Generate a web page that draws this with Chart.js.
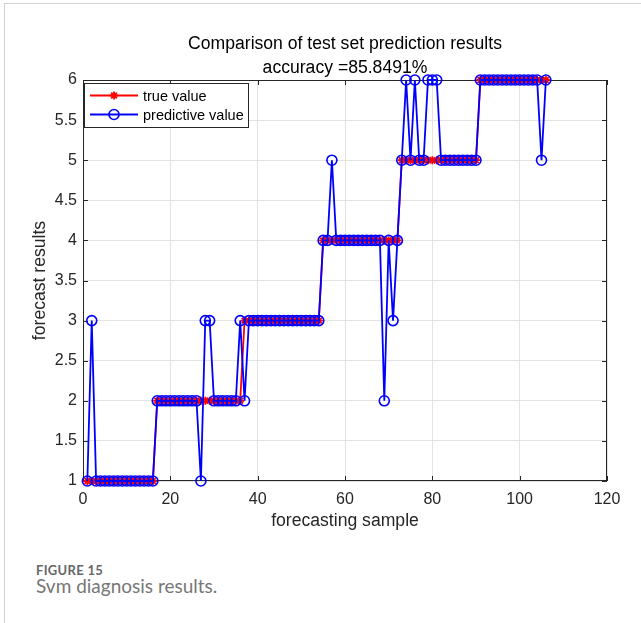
<!DOCTYPE html>
<html>
<head>
<meta charset="utf-8">
<script src="https://cdn.jsdelivr.net/npm/chart.js@4/dist/chart.umd.min.js"></script>
<style>
  html, body { margin: 0; padding: 0; background: #fff; }
  body { width: 641px; height: 623px; position: relative; overflow: hidden; }
  .panel {
    position: absolute; left: 4px; top: 3px; width: 800px; height: 800px;
    border-left: 1px solid #d2d2d2; border-top: 1px solid #d2d2d2;
  }
  #chart { position: absolute; left: 0; top: 0; }
  .fig-label {
    position: absolute; left: 36px; top: 562px;
    font-family: Lato, "Open Sans", sans-serif; font-size: 13px; font-weight: 700;
    color: #666; letter-spacing: 0.3px;
  }
  .fig-caption {
    position: absolute; left: 36px; top: 574px;
    font-family: Lato, "Open Sans", sans-serif; font-size: 19px; color: #777;
  }
</style>
</head>
<body>
<div class="panel"></div>
<canvas id="chart" width="641" height="540"></canvas>
<div class="fig-label">FIGURE 15</div>
<div class="fig-caption">Svm diagnosis results.</div>

<script>
// Test-set labels (fault classes 1-6) for samples 1..106
const trueValues = [
  1,1,1,1,1,1,1,1,1,1,1,1,1,1,1,1,
  2,2,2,2,2,2,2,2,2,2,2,2,2,2,2,2,2,2,2,2,
  3,3,3,3,3,3,3,3,3,3,3,3,3,3,3,3,3,3,
  4,4,4,4,4,4,4,4,4,4,4,4,4,4,4,4,4,4,
  5,5,5,5,5,5,5,5,5,5,5,5,5,5,5,5,5,5,
  6,6,6,6,6,6,6,6,6,6,6,6,6,6,6,6
];

// SVM predictions for the same samples
const predictedValues = [
  1,3,1,1,1,1,1,1,1,1,1,1,1,1,1,1,
  2,2,2,2,2,2,2,2,2,2,1,3,3,2,2,2,2,2,2,3,
  2,3,3,3,3,3,3,3,3,3,3,3,3,3,3,3,3,3,
  4,4,5,4,4,4,4,4,4,4,4,4,4,4,2,4,3,4,
  5,6,5,6,5,5,6,6,6,5,5,5,5,5,5,5,5,5,
  6,6,6,6,6,6,6,6,6,6,6,6,6,6,5,6
];

const xTicks = [0, 20, 40, 60, 80, 100, 120];
const yTicks = [1, 1.5, 2, 2.5, 3, 3.5, 4, 4.5, 5, 5.5, 6];

const titleLines = ['Comparison of test set prediction results', 'accuracy =85.8491%'];
const seriesNames = ['true value', 'predictive value'];

const AXIS_COLOR = '#262626';
const FONT = '"Liberation Sans", Arial, Helvetica, sans-serif';

const toPoints = arr => arr.map((v, i) => ({ x: i + 1, y: v }));

// MATLAB-style axes box with inward ticks, title and in-plot legend
const axesDecor = {
  id: 'axesDecor',
  beforeDatasetsDraw(chart) {
    const { ctx, chartArea: a, scales } = chart;
    ctx.save();
    ctx.strokeStyle = AXIS_COLOR;
    ctx.lineWidth = 1;
    ctx.strokeRect(a.left + 0.5, a.top + 0.5, a.right - a.left - 1, a.bottom - a.top - 1);
    const tl = 5;
    ctx.beginPath();
    xTicks.forEach(t => {
      const px = Math.round(scales.x.getPixelForValue(t)) + 0.5;
      ctx.moveTo(px, a.bottom); ctx.lineTo(px, a.bottom - tl);
      ctx.moveTo(px, a.top); ctx.lineTo(px, a.top + tl);
    });
    yTicks.forEach(t => {
      const py = Math.round(scales.y.getPixelForValue(t)) + 0.5;
      ctx.moveTo(a.left, py); ctx.lineTo(a.left + tl, py);
      ctx.moveTo(a.right, py); ctx.lineTo(a.right - tl, py);
    });
    ctx.stroke();
    ctx.restore();
  },
  afterDraw(chart) {
    const { ctx, chartArea: a } = chart;
    ctx.save();
    // title
    ctx.fillStyle = '#000';
    ctx.font = '17.6px ' + FONT;
    ctx.textAlign = 'center';
    ctx.textBaseline = 'middle';
    const cx = (a.left + a.right) / 2;
    ctx.fillText(titleLines[0], cx, 44);
    ctx.fillText(titleLines[1], cx, 68);

    // legend
    const lx = a.left + 1, ly = a.top + 3, lw = 164, lh = 44;
    ctx.fillStyle = '#fff';
    ctx.fillRect(lx, ly, lw, lh);
    ctx.strokeStyle = AXIS_COLOR;
    ctx.lineWidth = 1;
    ctx.strokeRect(lx + 0.5, ly + 0.5, lw, lh);
    const ds = chart.data.datasets;
    const rows = [ly + 12.5, ly + 31.5];
    ds.forEach((d, i) => {
      const y = rows[i];
      ctx.strokeStyle = d.borderColor;
      ctx.lineWidth = d.borderWidth;
      ctx.beginPath();
      ctx.moveTo(lx + 6, y); ctx.lineTo(lx + 54, y);
      ctx.stroke();
      ctx.fillStyle = 'rgba(0,0,0,0)';
      ctx.strokeStyle = d.pointBorderColor;
      ctx.lineWidth = d.pointBorderWidth;
      Chart.helpers.drawPoint(ctx, {
        pointStyle: d.pointStyle, radius: d.pointRadius, borderWidth: d.pointBorderWidth, rotation: 0
      }, lx + 30, y);
      ctx.fillStyle = '#000';
      ctx.font = '14.5px ' + FONT;
      ctx.textAlign = 'left';
      ctx.textBaseline = 'middle';
      ctx.fillText(seriesNames[i], lx + 59, y + 1);
    });
    ctx.restore();
  }
};

new Chart(document.getElementById('chart'), {
  type: 'line',
  data: {
    datasets: [
      {
        label: seriesNames[0],
        data: toPoints(trueValues),
        borderColor: '#ff0000',
        backgroundColor: '#ff0000',
        borderWidth: 1.8,
        pointStyle: 'star',
        pointRadius: 4,
        pointBorderWidth: 1.8,
        pointBorderColor: '#ff0000',
        tension: 0,
        clip: false,
        order: 1
      },
      {
        label: seriesNames[1],
        data: toPoints(predictedValues),
        borderColor: '#0000ff',
        backgroundColor: 'rgba(0,0,0,0)',
        borderWidth: 1.8,
        pointStyle: 'circle',
        pointRadius: 5,
        pointBorderWidth: 1.6,
        pointBorderColor: '#0000ff',
        pointBackgroundColor: 'rgba(0,0,0,0)',
        tension: 0,
        clip: false,
        order: 0
      }
    ]
  },
  options: {
    responsive: false,
    animation: false,
    events: [],
    layout: { padding: { top: 80, left: 0, right: 34, bottom: 0 } },
    plugins: {
      legend: { display: false },
      title: { display: false },
      tooltip: { enabled: false }
    },
    scales: {
      x: {
        type: 'linear',
        min: 0, max: 120,
        afterFit(scale) { scale.height = 59; },
        afterBuildTicks(scale) { scale.ticks = xTicks.map(v => ({ value: v })); },
        grid: { color: '#e3e3e3', lineWidth: 1, drawTicks: false },
        border: { display: false },
        ticks: {
          color: AXIS_COLOR, font: { family: FONT, size: 16 }, padding: 9, maxRotation: 0,
          callback: v => String(v)
        },
        title: {
          display: true, text: 'forecasting sample', color: AXIS_COLOR,
          font: { family: FONT, size: 17.6 }, padding: { top: 0, bottom: 8.4 }
        }
      },
      y: {
        type: 'linear',
        min: 1, max: 6,
        afterFit(scale) { scale.width = 83; },
        afterBuildTicks(scale) { scale.ticks = yTicks.map(v => ({ value: v })); },
        grid: { color: '#e3e3e3', lineWidth: 1, drawTicks: false },
        border: { display: false },
        ticks: {
          color: AXIS_COLOR, font: { family: FONT, size: 16 }, padding: 6,
          callback: v => String(v)
        },
        title: {
          display: true, text: 'forecast results', color: AXIS_COLOR,
          font: { family: FONT, size: 17.6 }, padding: { top: 29.4, bottom: 0 }
        }
      }
    }
  },
  plugins: [axesDecor]
});
</script>
</body>
</html>
